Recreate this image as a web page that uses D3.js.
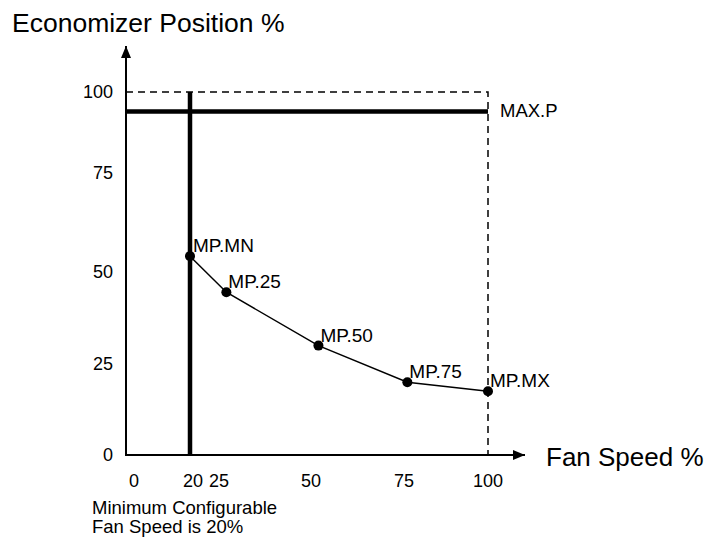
<!DOCTYPE html>
<html>
<head>
<meta charset="utf-8">
<script src="https://cdn.jsdelivr.net/npm/d3@7"></script>
<style>
  body { margin: 0; background: #fff; }
  svg text { font-family: "Liberation Sans", Arial, sans-serif; fill: #000; }
</style>
</head>
<body>
<svg id="chart" width="707" height="537"></svg>
<script>
// tick labels
const xTicks = [0, 20, 25, 50, 75, 100];
const yTicks = [0, 25, 50, 75, 100];

// curve points
const pointLabels = ["MP.MN", "MP.25", "MP.50", "MP.75", "MP.MX"];
const fanSpeed = [20, 27, 52, 76, 100];
const econPosition = [54, 44.5, 30, 20, 17.5];

// limits
const minFanSpeed = [20];
const maxPosition = [94];

const svg = d3.select("#chart");

// the drawing is hand spaced, so piecewise scales
const x = d3.scaleLinear()
  .domain([0, 20, 25, 50, 75, 100])
  .range([132, 191, 219, 311, 404, 488]);
const y = d3.scaleLinear()
  .domain([0, 25, 50, 75, 100])
  .range([455, 364, 272, 173, 92]);

const axisX0 = 126;

const defs = svg.append("defs");
defs.append("marker")
  .attr("id", "arrow")
  .attr("viewBox", "0 0 12 10")
  .attr("refX", 12).attr("refY", 5)
  .attr("markerWidth", 12).attr("markerHeight", 10)
  .attr("markerUnits", "userSpaceOnUse")
  .attr("orient", "auto")
  .append("path")
  .attr("d", "M0,0 L12,5 L0,10 Z")
  .attr("fill", "#000");

// dashed box at 100 / 100
svg.append("path")
  .attr("d", `M${axisX0},${y(100)} H${x(100)} V${y(0)}`)
  .attr("fill", "none")
  .attr("stroke", "#000")
  .attr("stroke-width", 1.5)
  .attr("stroke-dasharray", "7,5");

// axes with arrows
svg.append("line")
  .attr("x1", axisX0).attr("y1", y(0) + 1)
  .attr("x2", axisX0).attr("y2", 46)
  .attr("stroke", "#000").attr("stroke-width", 2)
  .attr("marker-end", "url(#arrow)");
svg.append("line")
  .attr("x1", axisX0 - 1).attr("y1", y(0))
  .attr("x2", 525).attr("y2", y(0))
  .attr("stroke", "#000").attr("stroke-width", 2)
  .attr("marker-end", "url(#arrow)");

// thick limit lines
svg.selectAll(".minfan").data(minFanSpeed).enter().append("line")
  .attr("x1", d => x(d) - 1).attr("x2", d => x(d) - 1)
  .attr("y1", y(100)).attr("y2", y(0))
  .attr("stroke", "#000").attr("stroke-width", 4.5);
svg.selectAll(".maxpos").data(maxPosition).enter().append("line")
  .attr("x1", axisX0).attr("x2", x(100))
  .attr("y1", d => y(d)).attr("y2", d => y(d))
  .attr("stroke", "#000").attr("stroke-width", 4.5);
svg.selectAll(".maxlabel").data(maxPosition).enter().append("text")
  .attr("x", x(100) + 12).attr("y", d => y(d) + 6)
  .attr("font-size", 18.5)
  .text("MAX.P");

// curve
const pts = fanSpeed.map((f, i) => ({ f: f, p: econPosition[i], label: pointLabels[i] }));
const line = d3.line().x(d => x(d.f) - (d.f === 20 ? 1 : 0)).y(d => y(d.p));
svg.append("path")
  .datum(pts)
  .attr("d", line)
  .attr("fill", "none")
  .attr("stroke", "#000")
  .attr("stroke-width", 1.5);

svg.selectAll(".dot").data(pts).enter().append("circle")
  .attr("cx", d => x(d.f) - (d.f === 20 ? 1 : 0))
  .attr("cy", d => y(d.p))
  .attr("r", 5);

svg.selectAll(".plabel").data(pts).enter().append("text")
  .attr("x", d => x(d.f) + 2)
  .attr("y", d => y(d.p) - 4)
  .attr("font-size", 19)
  .text(d => d.label);

// tick labels
svg.selectAll(".ytick").data(yTicks).enter().append("text")
  .attr("x", 113)
  .attr("y", d => y(d) + 6)
  .attr("text-anchor", "end")
  .attr("font-size", 18)
  .text(d => d);
svg.selectAll(".xtick").data(xTicks).enter().append("text")
  .attr("x", d => x(d) + (d === 0 ? 2 : d === 20 ? 2 : 0))
  .attr("y", 487)
  .attr("text-anchor", "middle")
  .attr("font-size", 18)
  .text(d => d);

// axis titles
svg.append("text")
  .attr("x", 12).attr("y", 32)
  .attr("font-size", 26.5)
  .text("Economizer Position %");
svg.append("text")
  .attr("x", 546).attr("y", 466)
  .attr("font-size", 26)
  .text("Fan Speed %");

// note under the axis
svg.append("text")
  .attr("x", 92).attr("y", 514)
  .attr("font-size", 18.5)
  .text("Minimum Configurable");
svg.append("text")
  .attr("x", 92).attr("y", 533)
  .attr("font-size", 18.5)
  .text("Fan Speed is 20%");
</script>
</body>
</html>
